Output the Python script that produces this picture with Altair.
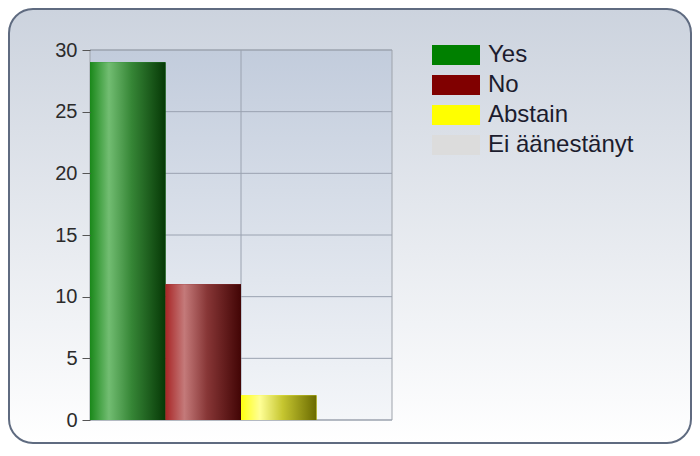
import altair as alt
import pandas as pd

# ---- data ----
categories = ["Yes", "No", "Abstain", "Ei äänestänyt"]
votes = [29, 11, 2, 0]
legend_colors = ["#008000", "#800000", "#ffff00", "#dcdcdc"]
y_ticks = [0, 5, 10, 15, 20, 25, 30]
y_max = 30

# ---- styles ----
grad_offsets = [0, 0.25, 0.55, 1]
bar_gradients = {
    "Yes": ["#1a881a", "#72bd72", "#368636", "#063806"],
    "No": ["#a82626", "#c47a7a", "#873636", "#420505"],
    "Abstain": ["#ffff10", "#ffff96", "#c6c630", "#6a6a00"],
    "Ei äänestänyt": ["#d8d8d8", "#f0f0f0", "#c0c0c0", "#909090"],
}

W, H = 302, 370
PAD = {"left": 82, "top": 42, "right": 300, "bottom": 24}


def hgrad(colors):
    return alt.LinearGradient(
        gradient="linear",
        stops=[alt.GradientStop(offset=o, color=c) for o, c in zip(grad_offsets, colors)],
        x1=0, x2=1, y1=0, y2=0,
    )


def vgrad(top, bottom):
    return alt.LinearGradient(
        gradient="linear",
        stops=[alt.GradientStop(offset=0, color=top), alt.GradientStop(offset=1, color=bottom)],
        x1=0, x2=0, y1=0, y2=1,
    )


df = pd.DataFrame({"category": categories, "votes": votes})
ticks_df = pd.DataFrame({"votes": y_ticks})
vgrid_df = pd.DataFrame({"category": [categories[len(categories) // 2]]})
one = pd.DataFrame({"k": [0]})

x_scale = alt.Scale(domain=categories, paddingInner=0, paddingOuter=0)
y_scale = alt.Scale(domain=[0, y_max], nice=False)
y_axis = alt.Axis(
    values=y_ticks, grid=False, domain=False, tickSize=8, tickColor="#555555",
    labelPadding=5, labelFontSize=20, labelFont="Liberation Sans",
    labelColor="#2b2b2b", title=None, zindex=1,
)
x_enc = alt.X("category:N", sort=categories, scale=x_scale, axis=None)
y_enc = alt.Y("votes:Q", scale=y_scale, axis=y_axis)

panel = alt.Chart(one).mark_rect(
    cornerRadius=24, fill=vgrad("#ccd3de", "#ffffff"), stroke="#5f6b80", strokeWidth=2
).encode(
    x=alt.value(-PAD["left"] + 1), x2=alt.value(W + PAD["right"] - 1),
    y=alt.value(-PAD["top"] + 1), y2=alt.value(H + PAD["bottom"] - 1),
)

plot_bg = alt.Chart(one).mark_rect(
    fill=vgrad("#c2ccdc", "#f4f6f9"), stroke="#9ea3ab", strokeWidth=1
).encode(x=alt.value(0), x2=alt.value("width"), y=alt.value(0), y2=alt.value("height"))

hgrid = alt.Chart(ticks_df).mark_rule(color="#9aa2b0", strokeWidth=1).encode(y=y_enc)

vgrid = alt.Chart(vgrid_df).mark_rule(color="#9aa2b0", strokeWidth=1).encode(
    x=alt.X("category:N", sort=categories, scale=x_scale, axis=None, bandPosition=0)
)

base_bars = alt.Chart(df).mark_bar(strokeWidth=0).encode(
    x=x_enc, y=y_enc,
    color=alt.Color(
        "category:N", sort=categories,
        scale=alt.Scale(domain=categories, range=legend_colors),
        legend=alt.Legend(
            title=None, orient="none", legendX=342, legendY=-10,
            symbolType="M-1,-0.4167H1V0.4167H-1Z", symbolSize=2304,
            symbolStrokeWidth=0, symbolOpacity=1, clipHeight=30, rowPadding=0,
            labelFontSize=24, labelFont="Liberation Sans", labelColor="#1c1c2e",
            labelOffset=8, labelLimit=300, padding=0,
        ),
    ),
)

grad_layers = [
    alt.Chart(df).transform_filter(alt.FieldEqualPredicate(field="category", equal=c))
    .mark_bar(color=hgrad(bar_gradients[c]), strokeWidth=0)
    .encode(x=x_enc, y=y_enc)
    for c in categories
]

chart = alt.layer(panel, plot_bg, hgrid, vgrid, base_bars, *grad_layers).properties(
    width=W, height=H,
    autosize=alt.AutoSizeParams(type="none"),
    padding=PAD,
    background="white",
).configure_view(strokeWidth=0)

chart.save("out.html", embed_options={"renderer": "svg", "actions": False})
